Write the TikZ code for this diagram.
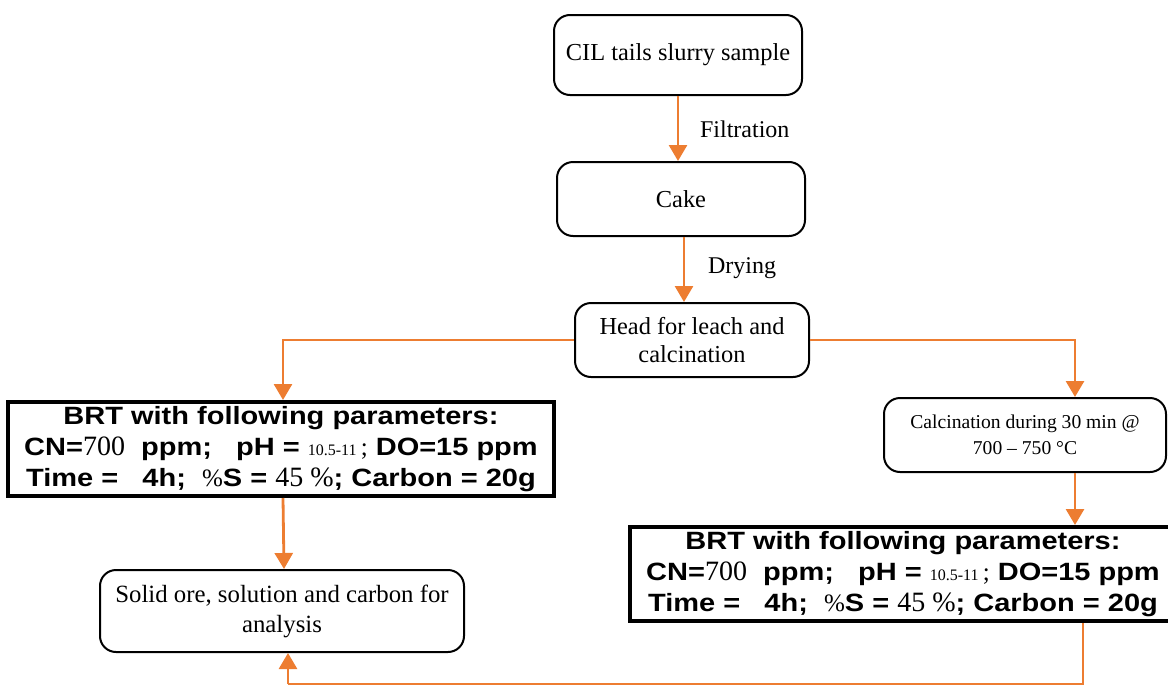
\documentclass[tikz,border=0pt]{standalone}
\usepackage{fontspec}
\setmainfont{Liberation Serif}
\newfontfamily\arialfont[FakeStretch=1.16]{Liberation Sans}
\usetikzlibrary{arrows.meta}
\definecolor{flowOrange}{RGB}{237,125,49}

\begin{document}
\begin{tikzpicture}[x=0.5pt, y=-0.5pt,
    adim/.style={draw=black, line width=1pt, rounded corners=8pt, align=center, inner sep=2pt},
    brt/.style={draw=black, line width=2pt, align=center, inner sep=2pt, font=\arialfont\bfseries\fontsize{12.5}{15.5}\selectfont},
    ok/.style={draw=flowOrange, line width=1.4pt, -{Triangle[width=9pt,length=8pt]}},
    cizgi/.style={draw=flowOrange, line width=1.4pt}]

    \useasboundingbox (0,0) rectangle (1168,686);

    % ANA AKIS
    \node[adim, minimum width=124pt, minimum height=40pt, font=\fontsize{12.2}{14}\selectfont] (ornek) at (678,55) {CIL tails slurry sample};
    \node[adim, minimum width=124pt, minimum height=37pt, font=\fontsize{12.2}{14}\selectfont] (kek) at (681,199) {Cake};
    \node[adim, minimum width=117pt, minimum height=37pt, font=\fontsize{12.2}{14}\selectfont] (bas) at (692,340) {Head for leach and\\calcination};

    \node[font=\fontsize{12}{13}\selectfont, anchor=west] (filtre) at (693,129) {Filtration};
    \node[font=\fontsize{12}{13}\selectfont, anchor=west] (kurut) at (701,268) {Drying};

    \draw[ok] (ornek.south -| 678,0) -- (kek.north -| 678,0);
    \draw[ok] (kek.south -| 684,0) -- (bas.north -| 684,0);

    % SOL KOL
    \node[brt, minimum width=273pt, minimum height=47pt] (brtSol) at (281,449) {BRT with following parameters:\\
        CN={\rmfamily\mdseries\fontsize{14}{15.5}\selectfont 700}\ \ ppm;\ \ \ pH = {\rmfamily\mdseries\footnotesize 10.5-11}\,{\rmfamily\mdseries ;} DO=15 ppm\\
        Time =\ \ \ 4h;\ \ {\rmfamily\mdseries\%}S = {\rmfamily\mdseries\fontsize{14}{15.5}\selectfont 45 \%}; Carbon = 20g};
    \node[adim, minimum width=182pt, minimum height=41pt, font=\fontsize{12.4}{15}\selectfont] (analiz) at (282,611) {Solid ore, solution and carbon for\\analysis};

    \draw[ok] (bas.west) -| ([xshift=1pt]brtSol.north);
    \draw[ok] ([xshift=1pt]brtSol.south) -- ([xshift=1pt]analiz.north);

    % SAG KOL
    \node[adim, minimum width=141pt, minimum height=37pt, font=\fontsize{9.8}{13}\selectfont] (kalsin) at (1025,435) {Calcination during 30 min @\\700 -- 750 \textdegree C};
    \node[brt, minimum width=273pt, minimum height=47pt] (brtSag) at (903,574) {BRT with following parameters:\\
        CN={\rmfamily\mdseries\fontsize{14}{15.5}\selectfont 700}\ \ ppm;\ \ \ pH = {\rmfamily\mdseries\footnotesize 10.5-11}\,{\rmfamily\mdseries ;} DO=15 ppm\\
        Time =\ \ \ 4h;\ \ {\rmfamily\mdseries\%}S = {\rmfamily\mdseries\fontsize{14}{15.5}\selectfont 45 \%}; Carbon = 20g};

    \draw[ok] (bas.east) -| ([xshift=25pt]kalsin.north);
    \draw[ok] ([xshift=25pt]kalsin.south) -- ([xshift=25pt]kalsin.south |- brtSag.north);

    % GERI DONUS
    \coordinate (alt) at (0,684);
    \draw[cizgi] ([xshift=90pt]brtSag.south) -- ([xshift=90pt]brtSag.south |- alt) -- (alt -| 288,0);
    \draw[ok] (alt -| 288,0) -- ([xshift=3pt]analiz.south);
\end{tikzpicture}
\end{document}
